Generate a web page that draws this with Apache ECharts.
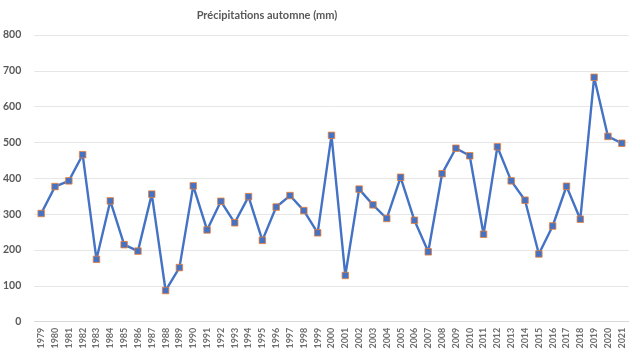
<!DOCTYPE html>
<html><head><meta charset="utf-8">
<script src="https://cdn.jsdelivr.net/npm/echarts@6/dist/echarts.min.js"></script>
<style>html,body{margin:0;padding:0;background:#fff}#c{width:640px;height:356px}</style>
</head><body><div id="c"></div>
<script>
const years = ['1979','1980','1981','1982','1983','1984','1985','1986','1987','1988','1989','1990','1991','1992','1993','1994','1995','1996','1997','1998','1999','2000','2001','2002','2003','2004','2005','2006','2007','2008','2009','2010','2011','2012','2013','2014','2015','2016','2017','2018','2019','2020','2021'];
const precip = [302,377,393,466,174,337,215,197,356,87,151,379,256,336,276,349,227,320,352,310,248,520,129,370,326,288,403,283,195,413,484,463,244,488,393,339,189,267,378,286,682,517,498];
const yTicks = {min:0, max:800, interval:100};
const titleText = 'Précipitations automne (mm)';

const chart = echarts.init(document.getElementById('c'), null, {renderer:'canvas'});
chart.setOption({
  animation:false,
  title:{text:titleText, left:262, top:5, textAlign:'center',
    textStyle:{fontFamily:'Lato', fontSize:11, fontWeight:'bold', color:'#595959'}},
  grid:{left:27.5, right:11.3, top:35, bottom:34.3, containLabel:false},
  xAxis:{type:'category', data:years, boundaryGap:true,
    axisLine:{lineStyle:{color:'#d9d9d9'}}, axisTick:{show:false},
    axisLabel:{rotate:90, fontSize:9, fontWeight:'bold', color:'#6f6f6f', margin:6, fontFamily:'Lato', interval:0}},
  yAxis:{type:'value', min:yTicks.min, max:yTicks.max, interval:yTicks.interval,
    axisLine:{show:false}, axisTick:{show:false},
    splitLine:{lineStyle:{color:'#e6e6e6'}},
    axisLabel:{fontSize:10.5, fontWeight:'bold', color:'#595959', margin:13, fontFamily:'Lato'}},
  series:[{type:'line', data:precip, symbol:'rect', symbolSize:6.5,
    lineStyle:{color:'#4472C4', width:2.4},
    itemStyle:{color:'#4472C4', borderColor:'#ED7D31', borderWidth:0.8}}]
});
</script></body></html>
